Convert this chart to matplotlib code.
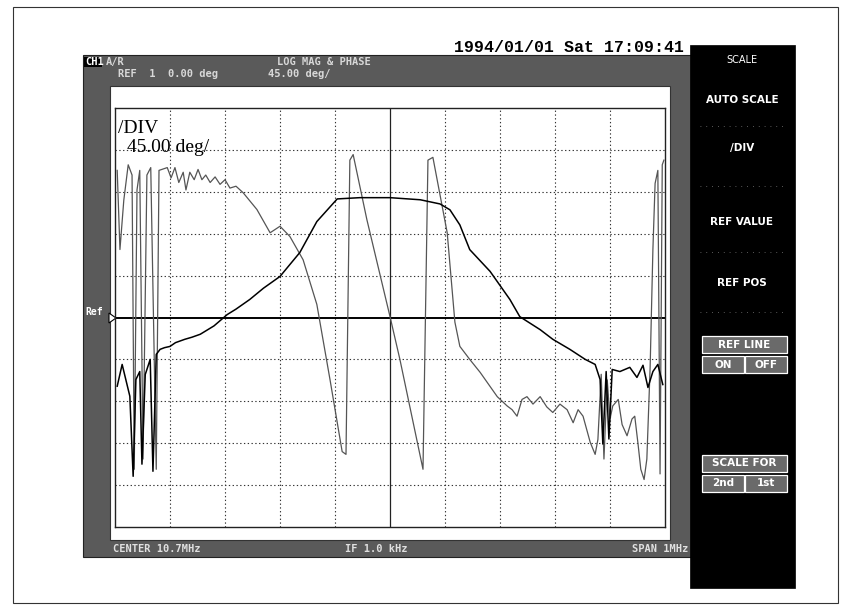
import matplotlib
matplotlib.use('Agg')
import matplotlib.pyplot as plt
from matplotlib.patches import Rectangle, Polygon
import numpy as np

# trace values, x in divisions (0..10 across the span)
mag_x = [0.04, 0.13, 0.27, 0.33, 0.38, 0.45, 0.49, 0.55, 0.64, 0.69, 0.75, 0.82,
         0.9, 1.0, 1.1, 1.27, 1.4, 1.55, 1.8, 2.04, 2.2, 2.45, 2.7, 3.0, 3.36, 3.67,
         4.04, 4.45, 5.0, 5.55, 5.91, 6.09, 6.27, 6.45, 6.82, 7.18, 7.36, 7.73,
         7.96, 8.27, 8.55, 8.73, 8.82, 8.87, 8.93, 8.98, 9.04, 9.18, 9.36, 9.49,
         9.6, 9.69, 9.78, 9.87, 9.96]
mag_div = [-1.64, -1.12, -1.88, -3.79, -1.48, -1.29, -3.5, -1.36, -1.0, -3.67, -0.88, -0.76,
           -0.72, -0.69, -0.6, -0.52, -0.47, -0.40, -0.2, 0.07, 0.2, 0.43, 0.7, 0.98, 1.55, 2.29,
           2.83, 2.86, 2.86, 2.81, 2.71, 2.57, 2.21, 1.62, 1.10, 0.43, 0.02, -0.29,
           -0.52, -0.76, -1.0, -1.12, -1.48, -3.02, -1.29, -2.9, -1.24, -1.29, -1.19, -1.43,
           -1.14, -1.67, -1.29, -1.12, -1.6]

phase_x = [0.04, 0.09, 0.16, 0.24, 0.31, 0.35, 0.4, 0.45, 0.51, 0.58, 0.65, 0.75,
           0.8, 0.95, 1.02, 1.09, 1.16, 1.24, 1.29, 1.36, 1.44, 1.51, 1.58, 1.65,
           1.73, 1.82, 1.91, 2.0, 2.09, 2.2, 2.33, 2.58, 2.82,
           3.0, 3.18, 3.42, 3.67, 3.91, 4.13, 4.2, 4.27, 4.33, 4.58, 5.0, 5.18,
           5.6, 5.69, 5.78, 6.04, 6.18, 6.27, 6.45, 6.64, 6.95, 7.13, 7.22, 7.31,
           7.4, 7.49, 7.6, 7.73, 7.85, 7.96, 8.09, 8.22, 8.33, 8.42, 8.51, 8.64,
           8.73, 8.78, 8.84, 8.89, 8.95, 9.0, 9.05, 9.15, 9.22, 9.31, 9.4, 9.45,
           9.51, 9.56, 9.62, 9.67, 9.73, 9.78, 9.82, 9.87, 9.91, 9.95, 9.98]
phase_deg = [158, 73, 126, 164, 153, -163, 137, 158, -152, 153, 161, -163,
             158, 161, 150, 161, 145, 156, 137, 156, 148, 159, 148, 153,
             145, 151, 143, 148, 139, 141, 134, 116, 91,
             98, 87, 62, 14, -67, -144, -147, 169, 175, 105, 1, -45,
             -163, 169, 172, 91, -5, -31, -45, -59, -85, -95, -99, -106,
             -88, -85, -93, -85, -96, -102, -93, -99, -113, -99, -106, -134,
             -147, -131, -61, -152, -67, -109, -95, -88, -115, -127, -109, -106,
             -136, -163, -174, -152, -53, 73, 144, 158, -168, 164, 169]

deg_per_div = 45.0

W, H = 853, 614
fig = plt.figure(figsize=(W / 100, H / 100), dpi=100)
fig.patch.set_facecolor('white')

# full-figure layer for the instrument frame, in pixel coords
bg = fig.add_axes([0, 0, 1, 1])
bg.set_xlim(0, W)
bg.set_ylim(H, 0)
bg.axis('off')

def box(x0, y0, x1, y1, **kw):
    bg.add_patch(Rectangle((x0, y0), x1 - x0, y1 - y0, **kw))

box(13, 7, 838, 603, fill=False, ec='#333333', lw=0.8)
box(83, 55, 692, 557, fc='#5a5a5a', ec='#222222', lw=0.8)
box(110, 86, 670, 540, fc='white', ec='#333333', lw=0.8)
box(690, 45, 795, 588, fc='black', ec='black', lw=0.5)

mono = 'DejaVu Sans Mono'
bg.text(684, 48, '1994/01/01 Sat 17:09:41', ha='right', va='center',
        fontsize=12, family='Liberation Mono', fontweight='bold', color='black')

box(84, 57, 102, 67, fc='black', ec='none')
bg.text(85, 62, 'CH1', ha='left', va='center', fontsize=7.5, family=mono,
        fontweight='bold', color='white')
bg.text(106, 62, 'A/R', ha='left', va='center', fontsize=7.5, family=mono,
        fontweight='bold', color='#d8d8d8')
bg.text(277, 62, 'LOG MAG & PHASE', ha='left', va='center', fontsize=7.5,
        family=mono, fontweight='bold', color='#d8d8d8')
bg.text(118, 74, 'REF  1  0.00 deg        45.00 deg/', ha='left', va='center',
        fontsize=7.5, family=mono, fontweight='bold', color='#d8d8d8')

bg.text(113, 549, 'CENTER 10.7MHz', ha='left', va='center', fontsize=7.5,
        family=mono, fontweight='bold', color='#e0e0e0')
bg.text(345, 549, 'IF 1.0 kHz', ha='left', va='center', fontsize=7.5,
        family=mono, fontweight='bold', color='#e0e0e0')
bg.text(688, 549, 'SPAN 1MHz', ha='right', va='center', fontsize=7.5,
        family=mono, fontweight='bold', color='#e0e0e0')

# reference marker
bg.text(85, 312, 'Ref', ha='left', va='center', fontsize=7, family=mono,
        fontweight='bold', color='white')
bg.add_patch(Polygon([(109, 313), (109, 323), (116, 318)], closed=True,
                     fc='white', ec='black', lw=0.8))

# softkey panel
kx = 742
bg.text(kx, 60, 'SCALE', ha='center', va='center', fontsize=7, color='white')
for label, y in [('AUTO SCALE', 100), ('/DIV', 148), ('REF VALUE', 222), ('REF POS', 283)]:
    bg.text(kx, y, label, ha='center', va='center', fontsize=7.5,
            fontweight='bold', color='white')
for y in [126, 186, 252, 312]:
    bg.plot([700, 785], [y, y], color='#777777', lw=0.6, ls=(0, (1, 6)))

for top, label1, pair in [(336, 'REF LINE', ('ON', 'OFF')), (455, 'SCALE FOR', ('2nd', '1st'))]:
    box(702, top, 787, top + 17, fc='#6a6a6a', ec='white', lw=0.9)
    bg.text(744, top + 8.5, label1, ha='center', va='center', fontsize=7.5,
            fontweight='bold', color='white')
    box(702, top + 20, 744, top + 37, fc='#6a6a6a', ec='white', lw=0.9)
    box(745, top + 20, 787, top + 37, fc='#6a6a6a', ec='white', lw=0.9)
    bg.text(723, top + 28.5, pair[0], ha='center', va='center', fontsize=7.5,
            fontweight='bold', color='white')
    bg.text(766, top + 28.5, pair[1], ha='center', va='center', fontsize=7.5,
            fontweight='bold', color='white')

# graticule
ax = fig.add_axes([115 / W, 1 - 527 / H, 550 / W, 419 / H])
ax.set_xlim(0, 10)
ax.set_ylim(-5, 5)
ax.set_xticks([])
ax.set_yticks([])
for s in ax.spines.values():
    s.set_color('#222222')
    s.set_linewidth(1.0)
for i in range(1, 10):
    if i == 5:
        ax.axvline(i, color='#222222', lw=0.9)
    else:
        ax.axvline(i, color='#333333', lw=0.8, ls=(0, (1.2, 2.2)))
        ax.axhline(i - 5, color='#333333', lw=0.8, ls=(0, (1.2, 2.2)))
ax.axhline(0, color='black', lw=1.4)

ax.plot(phase_x, np.array(phase_deg) / deg_per_div, color='#555555', lw=0.9)
ax.plot(mag_x, mag_div, color='black', lw=1.1)

ax.text(0.05, 4.52, '/DIV', fontsize=14, family='Liberation Serif', va='center')
ax.text(0.22, 4.05, '45.00 deg/', fontsize=14, family='Liberation Serif', va='center')

fig.savefig('out.png', dpi=100, facecolor='white')
